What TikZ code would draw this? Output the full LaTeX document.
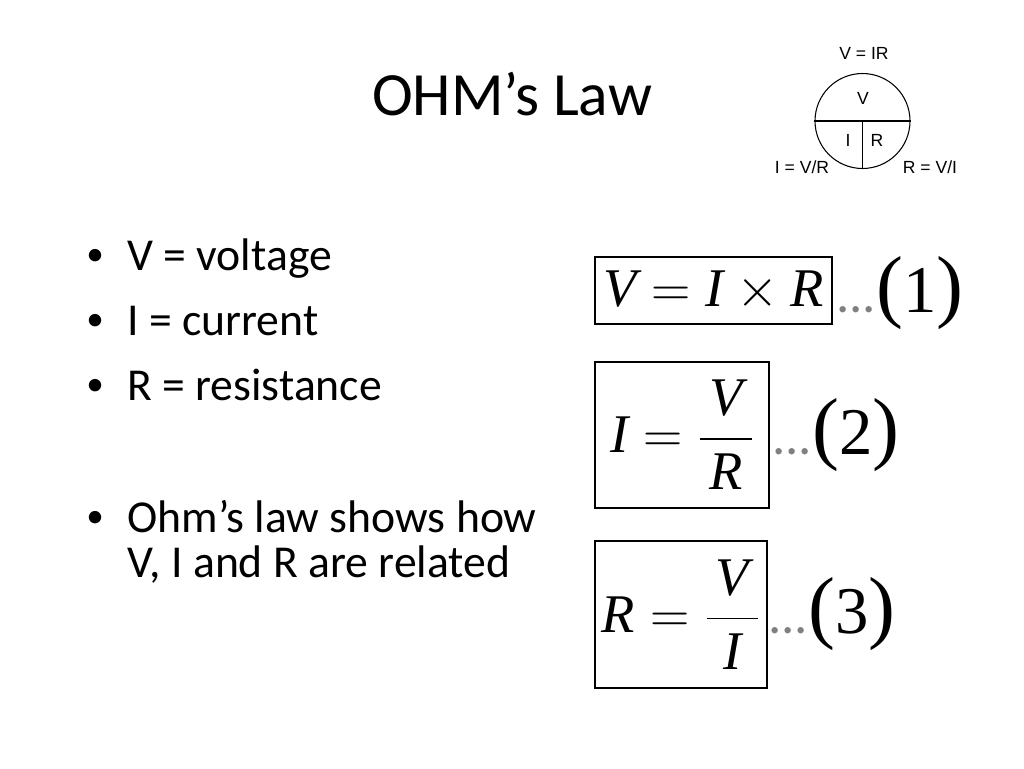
\RequirePackage{fix-cm}
\documentclass[tikz,border=0pt]{standalone}
\usepackage{amsmath}
\usepackage{fontspec}
\setmainfont{Carlito}
\newfontfamily\eqfont{Liberation Serif}
\newfontfamily\lblfont{Liberation Sans}
\usetikzlibrary{positioning}
\newcommand\ev[1]{\hbox{\eqfont\itshape #1}}
\newcommand\eqnum[1]{{\color{gray}\fontsize{30}{30}\selectfont...}{\eqfont\fontsize{46}{46}\selectfont(}{\eqfont\fontsize{38}{40}\selectfont #1}{\eqfont\fontsize{46}{46}\selectfont)}}

\begin{document}
\begin{tikzpicture}[x=0.02cm, y=-0.02cm,
    item/.style = {anchor=base west, inner sep=0pt, font=\fontsize{26}{30}\selectfont},
    dot/.style = {anchor=base, inner sep=0pt, font=\fontsize{20}{30}\selectfont},
    eqbox/.style = {draw, line width=1.1pt, inner sep=0pt, font=\fontsize{31}{38}\selectfont},
    num/.style = {anchor=base west, inner sep=0pt},
    lbl/.style = {inner sep=0pt, font=\lblfont\fontsize{10}{12}\selectfont}]
    \useasboundingbox (0,0) rectangle (1024,768);

    % Nodes

    \node[anchor=base, inner sep=0pt, font=\fontsize{35}{42}\selectfont] (title) at (512,115) {OHM’s Law};

    \node[dot] (b1) at (95,265) {•};
    \node[item] (volt) at (127,270) {V = voltage};
    \node[dot] (b2) at (95,330) {•};
    \node[item] (curr) at (127,335) {I = current};
    \node[dot] (b3) at (95,395) {•};
    \node[item] (res) at (127,400) {R = resistance};
    \node[dot] (b4) at (95,527) {•};
    \node[item] (ohm1) at (127,532) {Ohm’s law shows how};
    \node[item] (ohm2) at (127,577) {V, I and R are related};

    \node[draw, circle, line width=0.6pt, minimum size=1.9cm, inner sep=0pt] (wheel) at (862.5,121) {};
    \node[lbl] (vir) at (864,53) {V = IR};
    \node[lbl] (wv) at (863,98) {V};
    \node[lbl] (wi) at (848,140) {I};
    \node[lbl] (wr) at (877,140) {R};
    \node[lbl] (ivr) at (802,167) {I = V/R};
    \node[lbl] (rvi) at (930,167) {R = V/I};

    \node[eqbox, minimum width=4.74cm, minimum height=1.34cm] (eq1) at (713.5,290.5)
        {$\ev{V}=\ev{I}\times\ev{R}$};
    \node[eqbox, minimum width=3.48cm, minimum height=2.92cm] (eq2) at (682,435)
        {$\ev{I}=\dfrac{\,\ev{V}\,}{\ev{R}}$};
    \node[eqbox, minimum width=3.44cm, minimum height=2.94cm] (eq3) at (681,614.5)
        {$\ev{R}=\dfrac{\,\ev{V}\,}{\ev{I}}$};

    \node[num] (n1) at (836,312) {\eqnum{1}};
    \node[num] (n2) at (772,454) {\eqnum{2}};
    \node[num] (n3) at (768,633) {\eqnum{3}};

    % Edges

    \draw[line width=0.6pt] (wheel.west) -- (wheel.east);
    \draw[line width=0.6pt] (wheel.center) -- (wheel.south);

\end{tikzpicture}
\end{document}
